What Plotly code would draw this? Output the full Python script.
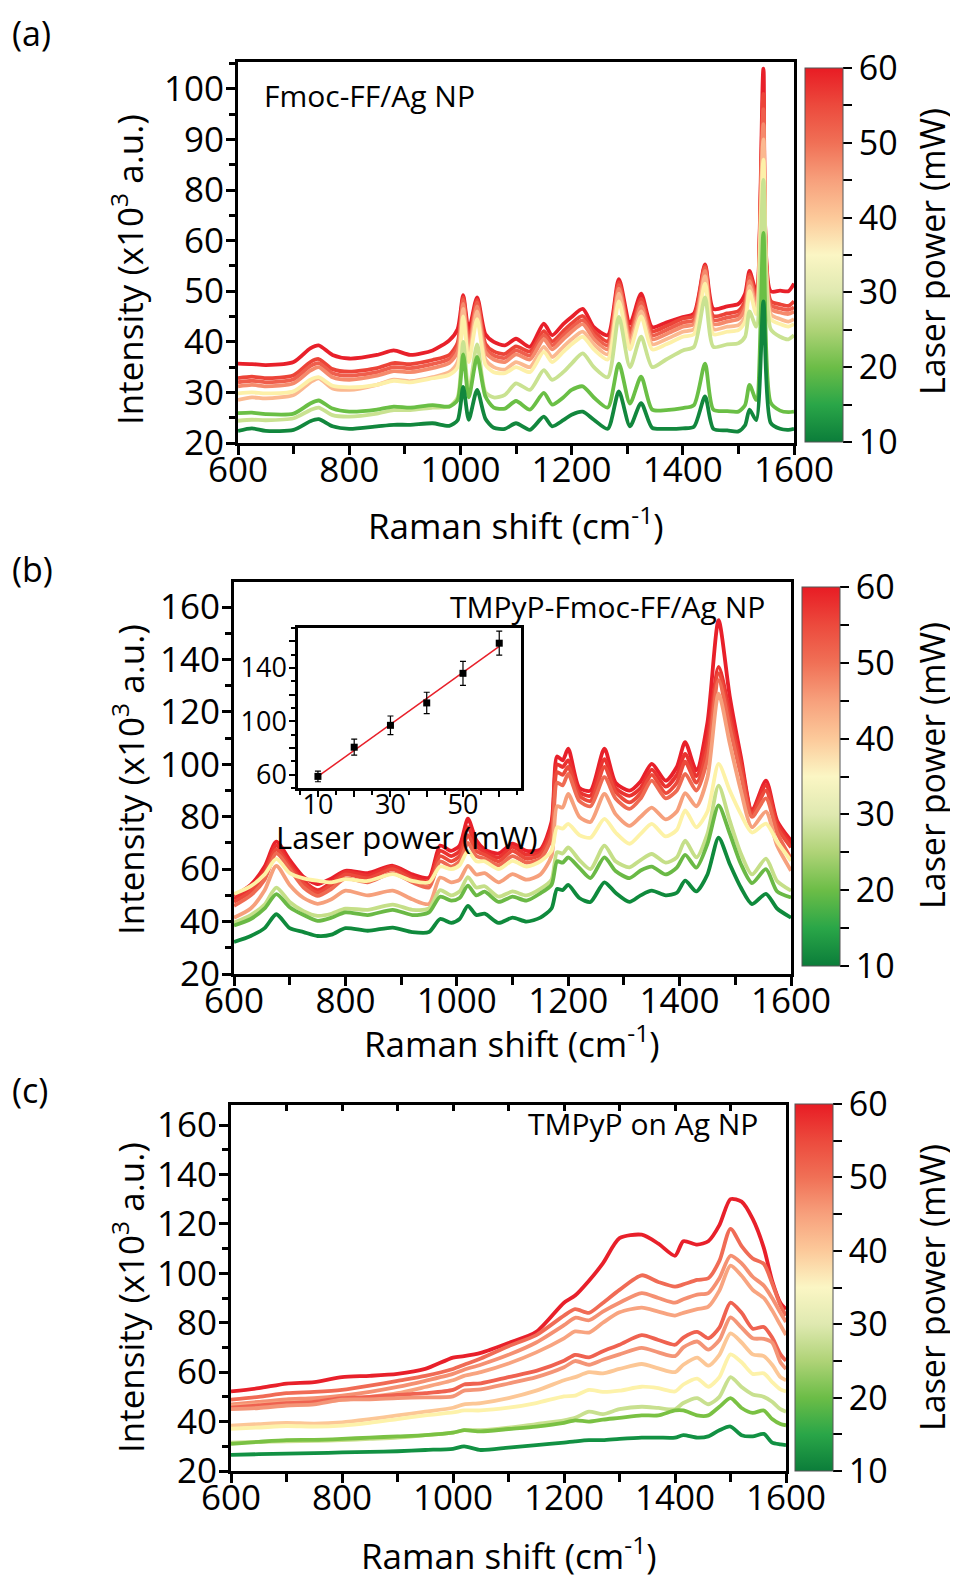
import numpy as np
import plotly.graph_objects as go

PAGE_W, PAGE_H = 958, 1578
OFF = 8  # default body margin of the html page
W, H = PAGE_W - OFF, PAGE_H - OFF
FONT = "Open Sans"

# ---------------- values ----------------
power_ticks = [10, 15, 20, 25, 30, 35, 40, 45, 50, 55, 60]
power_ticktext = ["10", "", "20", "", "30", "", "40", "", "50", "", "60"]

# panel (a) y axis: tick positions and the labels printed on them
a_ytick_vals = [20, 30, 40, 50, 60, 70, 80, 90]
a_ytick_text = ["20", "30", "40", "50", "60", "80", "90", "100"]

xa = [600, 625, 650, 700, 730, 745, 770, 800, 850, 880,
      910, 950, 980, 995, 1005, 1015, 1030, 1045, 1060, 1080,
      1100, 1125, 1150, 1165, 1185, 1200, 1220, 1240, 1265, 1285,
      1305, 1325, 1345, 1370, 1400, 1420, 1440, 1455, 1480, 1500,
      1512, 1520, 1532, 1545, 1558, 1575, 1590, 1600]
a_dg = [22.4, 22.9, 22.4, 22.6, 24.3, 24.7, 23.3, 22.8, 23.3, 23.6,
        23.6, 23.9, 23.4, 24.5, 31.1, 24.6, 30.5, 24.8, 23.0, 22.8,
        23.9, 22.6, 25.2, 23.3, 24.5, 25.6, 26.2, 24.6, 22.8, 30.2,
        23.3, 27.9, 23.0, 22.8, 22.9, 23.2, 29.2, 22.8, 22.5, 22.3,
        23.5, 26.6, 24.5, 48.0, 24.0, 22.8, 22.6, 22.8]
a_g = [25.9, 26.0, 25.7, 25.8, 27.8, 28.4, 26.8, 26.2, 26.6, 27.2,
       27.0, 27.5, 27.2, 28.5, 37.5, 29.0, 37.0, 29.2, 27.0, 26.8,
       28.3, 26.6, 29.9, 27.6, 29.0, 30.5, 31.2, 29.0, 27.0, 35.7,
       27.8, 33.1, 26.6, 26.5, 26.9, 27.5, 35.7, 26.6, 26.3, 26.2,
       27.5, 31.5, 28.5, 61.5, 28.0, 26.4, 26.1, 26.2]
a_lg = [24.4, 24.6, 24.5, 24.9, 26.5, 27.0, 25.5, 25.2, 25.8, 26.5,
        26.5, 27.0, 27.2, 29.0, 40.0, 30.0, 39.5, 30.0, 29.0, 29.5,
        31.8, 30.5, 34.4, 32.5, 34.0, 35.7, 37.7, 35.0, 33.0, 44.9,
        35.0, 41.0, 35.0, 36.5, 38.3, 39.0, 48.8, 39.0, 39.5, 39.7,
        41.0, 46.0, 43.0, 72.0, 42.5, 41.0, 40.5, 41.3]
a_y = [29.8, 30.0, 29.8, 30.2, 32.5, 33.0, 31.3, 31.0, 31.5, 32.3,
       32.0, 32.8, 33.5, 35.0, 45.0, 36.0, 44.5, 35.5, 34.0, 33.8,
       35.0, 34.0, 38.0, 36.0, 38.0, 39.5, 41.0, 38.5, 36.5, 48.0,
       38.5, 45.0, 38.5, 39.5, 41.0, 41.5, 51.5, 41.5, 42.0, 42.3,
       44.0, 50.0, 45.5, 76.0, 44.5, 43.5, 43.0, 43.5]
a_p = [28.5, 29.0, 28.8, 29.5, 32.0, 32.8, 30.8, 30.5, 31.5, 32.5,
       32.2, 33.0, 34.0, 36.0, 46.5, 37.0, 46.0, 36.5, 35.0, 34.5,
       36.0, 35.0, 39.0, 37.0, 39.0, 40.5, 42.0, 39.5, 37.5, 49.5,
       39.5, 46.0, 39.5, 40.5, 42.0, 42.5, 53.0, 42.5, 43.0, 43.3,
       45.0, 51.0, 46.5, 80.0, 45.5, 44.5, 44.0, 44.5]
a_s = [31.2, 31.5, 31.2, 31.8, 34.3, 35.0, 33.0, 32.5, 33.3, 34.2,
       34.0, 34.8, 35.8, 38.0, 47.5, 38.5, 47.0, 38.0, 36.5, 36.0,
       37.5, 36.5, 40.5, 38.5, 40.5, 42.0, 43.5, 40.5, 38.5, 50.5,
       40.5, 47.0, 40.5, 41.5, 43.0, 43.5, 54.0, 43.5, 44.0, 44.5,
       46.5, 52.0, 47.5, 83.0, 46.5, 45.8, 45.5, 46.0]
a_r3 = [32.0, 32.3, 32.0, 32.6, 35.2, 35.8, 33.8, 33.3, 34.0, 35.0,
        34.8, 35.6, 36.6, 39.0, 48.3, 39.5, 47.8, 38.8, 37.3, 36.8,
        38.3, 37.3, 41.3, 39.3, 41.3, 42.8, 44.3, 41.3, 39.3, 51.2,
        41.3, 47.8, 41.3, 42.3, 43.8, 44.3, 54.6, 44.3, 44.8, 45.3,
        47.3, 52.8, 48.3, 86.0, 47.3, 46.6, 46.3, 46.8]
a_r2 = [32.8, 33.1, 32.8, 33.4, 36.0, 36.6, 34.6, 34.1, 34.8, 35.8,
        35.6, 36.4, 37.4, 39.8, 48.8, 40.3, 48.3, 39.6, 38.1, 37.6,
        39.1, 38.1, 42.1, 40.1, 42.1, 43.6, 45.1, 42.1, 40.1, 51.8,
        42.1, 48.5, 42.1, 43.1, 44.6, 45.1, 55.0, 45.1, 45.6, 46.1,
        48.1, 53.3, 49.1, 89.0, 48.1, 47.4, 47.1, 48.0]
a_r1 = [35.7, 35.6, 35.4, 36.0, 38.7, 39.3, 37.4, 36.7, 37.4, 38.3,
        37.4, 38.3, 40.3, 42.5, 49.2, 42.3, 48.8, 41.5, 40.0, 39.3,
        40.6, 39.0, 43.6, 41.3, 43.5, 44.9, 46.5, 42.9, 41.3, 52.4,
        43.6, 49.5, 42.9, 43.8, 44.9, 45.6, 55.3, 46.5, 47.0, 47.5,
        49.5, 54.0, 50.0, 94.0, 50.0, 50.1, 50.0, 51.5]

xb = [600, 630, 655, 676, 700, 725, 750, 775, 800, 840,
      885, 920, 950, 970, 990, 1005, 1020, 1035, 1050, 1075,
      1100, 1125, 1150, 1170, 1180, 1190, 1200, 1220, 1240, 1265,
      1285, 1310, 1330, 1350, 1375, 1395, 1410, 1430, 1450, 1470,
      1490, 1510, 1530, 1555, 1575, 1600]
b_dg = [32.2, 34.5, 37.5, 42.8, 37.5, 36.0, 34.5, 35.0, 37.5, 36.5,
        37.7, 36.0, 36.0, 41.0, 39.5, 41.0, 46.0, 42.5, 43.0, 39.5,
        41.5, 40.0, 41.5, 45.0, 52.5, 52.0, 54.0, 49.0, 47.5, 55.0,
        51.0, 47.5, 50.0, 51.8, 50.0, 51.0, 55.6, 51.5, 58.0, 72.0,
        62.0, 53.0, 46.7, 50.6, 45.0, 41.5]
b_g = [38.5, 41.0, 45.0, 50.5, 45.5, 42.5, 40.3, 41.5, 43.5, 42.5,
       44.5, 42.5, 43.5, 49.5, 48.0, 49.0, 53.7, 50.0, 51.4, 47.5,
       49.5, 48.0, 50.8, 54.0, 63.0, 62.5, 64.5, 60.5, 56.6, 64.5,
       59.3, 56.6, 59.5, 61.0, 58.0, 60.6, 65.5, 60.6, 69.7, 84.3,
       73.6, 62.0, 54.7, 60.0, 51.5, 49.2]
b_lg = [39.6, 42.5, 46.5, 53.0, 47.5, 44.0, 42.2, 43.0, 44.9, 44.5,
        46.5, 44.5, 45.0, 52.0, 50.0, 51.5, 57.0, 53.0, 53.5, 49.5,
        51.5, 50.0, 52.5, 56.0, 66.5, 66.0, 68.3, 63.5, 60.0, 69.0,
        63.0, 60.7, 63.5, 65.8, 62.5, 64.5, 70.9, 64.5, 73.5, 91.9,
        78.5, 66.0, 58.0, 64.0, 55.5, 51.8]
b_y = [50.5, 53.5, 58.0, 63.9, 58.5, 56.5, 55.6, 55.0, 56.2, 55.5,
       58.1, 55.5, 55.0, 61.0, 60.0, 61.5, 67.0, 63.0, 63.0, 60.0,
       63.2, 61.0, 63.0, 67.0, 76.0, 75.5, 77.3, 73.0, 72.0, 79.2,
       74.0, 69.7, 73.5, 77.3, 72.5, 75.0, 82.4, 76.0, 82.0, 100.2,
       90.0, 81.0, 74.0, 77.4, 70.5, 63.2]
b_p = [41.5, 45.0, 52.0, 61.3, 54.0, 49.0, 46.8, 48.5, 51.8, 50.0,
       51.8, 48.5, 46.7, 56.8, 55.0, 56.0, 61.3, 58.0, 58.5, 55.0,
       58.1, 56.0, 58.0, 65.0, 84.0, 83.5, 88.7, 80.0, 78.0, 88.7,
       81.0, 76.5, 80.0, 83.5, 79.0, 82.0, 89.0, 84.0, 95.0, 127.0,
       108.0, 90.0, 76.0, 82.0, 69.0, 59.4]
b_s = [46.0, 50.0, 56.0, 66.0, 60.0, 53.0, 49.8, 52.5, 56.5, 55.0,
       58.5, 55.0, 53.0, 63.0, 61.0, 63.0, 70.0, 65.0, 64.0, 61.5,
       65.0, 62.5, 64.0, 72.0, 93.0, 92.0, 96.4, 86.0, 84.0, 95.1,
       87.0, 83.0, 87.0, 93.8, 87.0, 90.0, 96.4, 90.0, 102.0, 132.1,
       114.0, 96.0, 80.0, 87.0, 74.0, 64.0]
b_r3 = [47.5, 51.5, 58.0, 67.5, 61.0, 54.5, 51.0, 54.0, 58.0, 56.5,
        60.0, 56.0, 54.5, 65.0, 63.0, 65.0, 73.0, 67.0, 65.5, 63.0,
        67.0, 64.0, 65.5, 74.0, 97.0, 96.0, 99.0, 88.0, 86.0, 99.0,
        89.5, 85.5, 89.0, 96.0, 89.0, 93.0, 101.0, 93.0, 106.0, 134.7,
        117.0, 99.0, 81.0, 90.0, 76.0, 68.3]
b_r2 = [48.6, 52.5, 59.5, 69.0, 62.0, 55.5, 52.0, 55.0, 59.0, 57.5,
        61.0, 57.0, 55.5, 67.0, 65.0, 67.0, 76.0, 69.0, 66.5, 64.5,
        68.5, 65.5, 66.5, 76.0, 100.0, 99.0, 101.5, 89.5, 88.0, 102.0,
        91.0, 88.0, 91.0, 98.0, 91.5, 96.0, 104.0, 95.5, 110.0, 137.2,
        120.0, 101.0, 82.0, 92.0, 77.5, 69.5]
b_r1 = [49.8, 54.0, 61.0, 70.5, 63.5, 57.0, 54.3, 56.5, 59.4, 58.5,
        61.3, 58.0, 56.8, 69.0, 67.0, 69.0, 79.3, 71.0, 67.5, 66.0,
        69.7, 67.0, 67.5, 78.0, 103.0, 101.5, 106.0, 91.0, 90.0, 106.0,
        93.0, 90.0, 93.5, 100.2, 93.8, 99.0, 108.5, 97.7, 116.0, 155.0,
        126.0, 103.0, 82.4, 93.8, 78.5, 70.9]

# inset of panel (b)
ins_power = [10, 20, 30, 40, 50, 60]
ins_int = [58.7, 80.6, 97.0, 113.8, 136.0, 158.6]
ins_err = [4.0, 6.0, 7.0, 8.0, 9.0, 9.0]

xc = [600, 650, 700, 750, 800, 850, 900, 950, 1000, 1020,
      1050, 1100, 1150, 1200, 1220, 1245, 1270, 1300, 1340, 1370,
      1400, 1415, 1440, 1460, 1480, 1500, 1520, 1540, 1560, 1575,
      1590, 1600]
c_60 = [52.2, 53.5, 55.4, 56.0, 58.0, 58.5, 59.3, 61.3, 65.9, 66.5,
        67.8, 71.8, 76.3, 88.1, 91.0, 97.0, 104.0, 114.2, 115.6, 112.0,
        107.1, 113.0, 111.6, 113.0, 119.5, 130.0, 129.0, 122.0, 110.3, 97.0,
        88.0, 85.5]
c_55 = [48.9, 50.0, 51.5, 52.0, 52.8, 54.5, 56.5, 58.5, 61.3, 63.0,
        65.5, 70.5, 75.0, 82.9, 85.5, 84.0, 88.0, 93.3, 99.2, 96.5,
        94.6, 95.5, 97.3, 98.0, 105.0, 118.0, 111.0, 106.0, 103.8, 96.0,
        87.0, 82.9]
c_50 = [46.9, 48.0, 49.0, 49.5, 50.5, 52.0, 54.0, 56.5, 59.3, 61.0,
        63.0, 67.0, 72.0, 79.0, 82.0, 81.0, 84.5, 88.1, 92.0, 90.0,
        88.1, 89.5, 91.4, 92.0, 98.0, 107.1, 104.0, 98.6, 95.0, 90.0,
        84.0, 80.3]
c_45 = [46.3, 47.0, 47.8, 48.0, 48.8, 50.0, 51.5, 54.0, 56.7, 58.5,
        60.0, 63.5, 68.0, 73.7, 76.5, 76.0, 80.0, 84.2, 86.1, 84.5,
        82.9, 84.0, 85.5, 86.5, 93.0, 103.1, 99.0, 93.3, 90.0, 85.0,
        79.0, 75.0]
c_40 = [45.6, 46.5, 47.5, 48.0, 49.5, 50.0, 50.8, 51.5, 52.8, 55.0,
        55.5, 58.0, 60.5, 64.6, 67.0, 66.0, 68.5, 71.1, 75.0, 73.0,
        71.1, 74.0, 76.3, 73.7, 78.0, 88.1, 84.0, 77.6, 78.3, 74.0,
        67.2, 64.6]
c_35 = [45.0, 45.5, 46.5, 47.0, 48.9, 49.0, 49.5, 49.8, 50.2, 52.5,
        53.0, 55.4, 58.0, 62.0, 64.5, 63.0, 65.0, 67.2, 69.8, 68.0,
        66.5, 70.0, 72.4, 69.1, 73.0, 82.2, 78.0, 73.7, 73.5, 72.0,
        64.0, 61.3]
c_30 = [38.4, 39.0, 39.5, 39.2, 39.7, 41.0, 42.5, 44.0, 45.6, 47.0,
        47.5, 49.5, 52.5, 56.7, 58.0, 60.0, 59.5, 61.3, 63.3, 61.5,
        60.0, 63.0, 65.9, 62.6, 67.0, 75.7, 72.0, 67.2, 66.5, 63.0,
        58.0, 56.7]
c_25 = [37.1, 37.6, 38.2, 38.0, 38.4, 39.5, 41.0, 42.5, 43.7, 44.5,
        44.5, 45.6, 47.5, 50.2, 50.5, 52.8, 52.0, 52.5, 54.1, 53.5,
        52.2, 55.0, 57.4, 54.1, 58.0, 67.2, 64.0, 59.3, 59.5, 56.0,
        53.0, 52.2]
c_20 = [31.5, 31.8, 32.0, 32.2, 32.5, 33.0, 33.5, 34.5, 35.5, 36.5,
        36.5, 37.5, 39.0, 40.5, 41.5, 44.0, 43.0, 45.0, 46.0, 45.5,
        45.0, 47.5, 49.5, 47.0, 50.0, 58.0, 54.0, 51.0, 50.0, 48.0,
        45.0, 44.0]
c_15 = [31.0, 31.8, 32.5, 32.6, 33.0, 33.5, 34.0, 34.5, 35.5, 36.5,
        36.0, 37.0, 38.0, 39.5, 40.5, 40.0, 40.8, 41.5, 42.5, 42.5,
        44.5, 44.5, 42.5, 42.5, 46.0, 49.5, 45.5, 43.5, 44.5, 41.0,
        39.0, 38.5]
c_10 = [26.5, 26.8, 27.0, 27.2, 27.5, 27.7, 28.0, 28.5, 29.0, 30.0,
        28.5, 29.5, 30.5, 31.5, 32.0, 32.5, 32.5, 33.0, 33.5, 33.5,
        33.5, 34.5, 33.5, 34.0, 36.5, 38.0, 34.5, 34.0, 35.0, 31.5,
        30.8, 30.5]

# ---------------- styles ----------------
colorscale = [[0.0, "#0b7d3a"], [0.1, "#2aa648"], [0.2, "#6cbd47"],
              [0.3, "#afd377"], [0.4, "#dfe9b0"], [0.5, "#fbf6c4"],
              [0.6, "#fcc99a"], [0.7, "#f7a07c"], [0.8, "#f07056"],
              [0.9, "#ec4a3d"], [1.0, "#e81c24"]]

a_curves = [a_r1, a_r2, a_r3, a_s, a_p, a_y, a_lg, a_g, a_dg]
a_colors = ["#e8202a", "#ec4438", "#ef5e4c", "#f58a6c", "#fbb990",
            "#fdf0a8", "#c9e291", "#6abf45", "#12873d"]
b_curves = [b_r1, b_r2, b_r3, b_s, b_p, b_y, b_lg, b_g, b_dg]
b_colors = ["#e8202a", "#ea3330", "#ec4a3b", "#ef6a52", "#f6a07c",
            "#fdf2a6", "#c5df88", "#6ab945", "#0f8a3c"]
c_curves = [c_60, c_55, c_50, c_45, c_40, c_35, c_30, c_25, c_20, c_15, c_10]
c_colors = ["#e8202a", "#f06b55", "#f59072", "#f8a480", "#ef6250",
            "#f49577", "#fcc796", "#fdf2aa", "#c8e08f", "#7ac143", "#129143"]


def fx(p):
    return (p - OFF) / W


def fy(p):
    return 1 - (p - OFF) / H


panels = [
    dict(xs=xa, curves=a_curves, colors=a_colors, ax="x", ay="y",
         box=(238, 794, 62, 443), cb=(805, 68, 442), yr=[20, 95.3],
         label="(a)", label_y=33, name="Fmoc-FF/Ag NP", name_x=262, name_y=96,
         name_anchor="left", ytitle_y=270, xtitle_y=523, cbtitle_y=252),
    dict(xs=xb, curves=b_curves, colors=b_colors, ax="x2", ay="y2",
         box=(234, 791, 582, 974), cb=(802, 587, 966), yr=[20, 169.6],
         label="(b)", label_y=569, name="TMPyP-Fmoc-FF/Ag NP", name_x=767, name_y=606,
         name_anchor="right", ytitle_y=780, xtitle_y=1041, cbtitle_y=766),
    dict(xs=xc, curves=c_curves, colors=c_colors, ax="x3", ay="y3",
         box=(231, 786, 1105, 1471), cb=(795, 1104, 1471), yr=[20, 168.1],
         label="(c)", label_y=1090, name="TMPyP on Ag NP", name_x=760, name_y=1123,
         name_anchor="right", ytitle_y=1298, xtitle_y=1553, cbtitle_y=1288),
]

fig = go.Figure()
annotations = []
TICKF = dict(family=FONT, size=35, color="black")
CBF = dict(family=FONT, size=34, color="black")
TITLEF = dict(family=FONT, size=35, color="black")
CBTF = dict(family=FONT, size=34, color="black")

for i, p in enumerate(panels):
    for ys, col in zip(p["curves"], p["colors"]):
        fig.add_trace(go.Scatter(
            x=p["xs"], y=ys, mode="lines",
            line=dict(color=col, width=3.8, shape="spline", smoothing=0.7),
            xaxis=p["ax"], yaxis=p["ay"], showlegend=False, hoverinfo="skip"))
    cbx, cbt, cbb = p["cb"]
    fig.add_trace(go.Scatter(
        x=[p["xs"][0], p["xs"][0]], y=[p["curves"][-1][0], p["curves"][-1][0]],
        mode="markers", xaxis=p["ax"], yaxis=p["ay"], showlegend=False,
        hoverinfo="skip",
        marker=dict(size=1, opacity=0, color=[power_ticks[0], power_ticks[-1]],
                    cmin=power_ticks[0], cmax=power_ticks[-1],
                    colorscale=colorscale, showscale=True,
                    colorbar=dict(
                        x=fx(cbx), xanchor="left", xpad=0,
                        y=fy(cbt), yanchor="top", ypad=0,
                        len=cbb - cbt, lenmode="pixels",
                        thickness=38, thicknessmode="pixels",
                        outlinewidth=1, outlinecolor="#555",
                        tickmode="array", tickvals=power_ticks,
                        ticktext=power_ticktext,
                        ticks="outside", ticklen=9, tickwidth=2, tickcolor="black",
                        tickfont=CBF))))

    l, r, t, b = p["box"]
    suffix = "" if i == 0 else str(i + 1)
    xaxis = dict(domain=[fx(l), fx(r)], range=[600, 1600], anchor=p["ay"],
                 tick0=600, dtick=200, ticks="outside", ticklen=9, tickwidth=2.5,
                 tickcolor="black", showline=True, linewidth=3, linecolor="black",
                 mirror=True, showgrid=False, zeroline=False, tickfont=TICKF,
                 ticklabelstandoff=-15,
                 minor=dict(dtick=100, tick0=600, ticks="outside", ticklen=8,
                            tickwidth=2.5, tickcolor="black", showgrid=False))
    yaxis = dict(domain=[fy(b), fy(t)], range=p["yr"], anchor=p["ax"],
                 ticks="outside", ticklen=9, tickwidth=2.5, tickcolor="black",
                 showline=True, linewidth=3, linecolor="black", mirror=True,
                 showgrid=False, zeroline=False, tickfont=TICKF,
                 ticklabelstandoff=-5)
    if i == 0:
        yaxis.update(tickmode="array", tickvals=a_ytick_vals, ticktext=a_ytick_text,
                     minor=dict(dtick=5, tick0=20, ticks="outside", ticklen=6,
                                tickwidth=2.5, tickcolor="black", showgrid=False))
    else:
        yaxis.update(tick0=20, dtick=20,
                     minor=dict(dtick=10, tick0=20, ticks="outside", ticklen=6,
                                tickwidth=2.5, tickcolor="black", showgrid=False))
    fig.update_layout(**{"xaxis" + suffix: xaxis, "yaxis" + suffix: yaxis})

    annotations += [
        dict(text=p["label"], x=fx(10), y=fy(p["label_y"]), xref="paper", yref="paper",
             xanchor="left", yanchor="middle", showarrow=False,
             font=dict(family=FONT, size=34, color="black")),
        dict(text=p["name"], x=fx(p["name_x"]), y=fy(p["name_y"]), xref="paper",
             yref="paper", xanchor=p["name_anchor"], yanchor="middle", showarrow=False,
             font=dict(family=FONT, size=30, color="black")),
        dict(text="Intensity (x10<sup>3</sup> a.u.)", x=fx(128), y=fy(p["ytitle_y"]),
             xref="paper", yref="paper", xanchor="center", yanchor="middle",
             textangle=-90, showarrow=False, font=TITLEF),
        dict(text="Raman shift (cm<sup>-1</sup>)", x=fx((l + r) / 2), y=fy(p["xtitle_y"]),
             xref="paper", yref="paper", xanchor="center", yanchor="middle",
             showarrow=False, font=TITLEF),
        dict(text="Laser power (mW)", x=fx(932), y=fy(p["cbtitle_y"]),
             xref="paper", yref="paper", xanchor="center", yanchor="middle",
             textangle=-90, showarrow=False, font=CBTF),
    ]

# inner top ticks of panel (c)
fig.add_trace(go.Scatter(x=[xc[0]], y=[c_10[0]], mode="markers",
                         marker=dict(size=1, opacity=0), xaxis="x5", yaxis="y3",
                         showlegend=False, hoverinfo="skip"))
fig.update_layout(xaxis5=dict(overlaying="x3", anchor="y3", side="top",
                              range=[600, 1600], tick0=600, dtick=100,
                              ticks="inside", ticklen=6, tickwidth=2.5,
                              tickcolor="black", showticklabels=False,
                              showline=False, showgrid=False, zeroline=False))

# ---------------- inset in panel (b) ----------------
slope, icpt = np.polyfit(ins_power, ins_int, 1)
fit_x = [ins_power[0], ins_power[-1]]
fit_y = [slope * v + icpt for v in fit_x]
fig.add_trace(go.Scatter(x=fit_x, y=fit_y, mode="lines",
                         line=dict(color="#e8202a", width=1.5),
                         xaxis="x4", yaxis="y4", showlegend=False, hoverinfo="skip"))
fig.add_trace(go.Scatter(x=ins_power, y=ins_int, mode="markers",
                         marker=dict(symbol="square", size=7, color="black"),
                         error_y=dict(type="data", array=ins_err, visible=True,
                                      color="black", thickness=1.2, width=3),
                         xaxis="x4", yaxis="y4", showlegend=False, hoverinfo="skip"))
INSF = dict(family=FONT, size=27, color="black")
fig.update_layout(
    xaxis4=dict(domain=[fx(298), fx(521)], range=[4.5, 66], anchor="y4",
                tickmode="array", tickvals=[10, 20, 30, 40, 50, 60],
                ticktext=["10", "", "30", "", "50", ""],
                ticks="outside", ticklen=6, tickwidth=2, tickcolor="black",
                showline=True, linewidth=2.5, linecolor="black", mirror=True,
                showgrid=False, zeroline=False, tickfont=INSF,
                ticklabelstandoff=-15,
                minor=dict(dtick=5, tick0=10, ticks="outside", ticklen=4, tickwidth=1.5,
                           tickcolor="black", showgrid=False)),
    yaxis4=dict(domain=[fy(788), fy(628)], range=[50, 170], anchor="x4",
                tickmode="array", tickvals=[60, 80, 100, 120, 140, 160],
                ticktext=["60", "", "100", "", "140", ""],
                ticks="outside", ticklen=6, tickwidth=2, tickcolor="black",
                showline=True, linewidth=2.5, linecolor="black", mirror=True,
                showgrid=False, zeroline=False, tickfont=INSF,
                ticklabelstandoff=-3,
                minor=dict(dtick=10, tick0=60, ticks="outside", ticklen=4, tickwidth=1.5,
                           tickcolor="black", showgrid=False)),
)
annotations.append(dict(text="Laser power (mW)", x=fx(407), y=fy(837), xref="paper",
                        yref="paper", xanchor="center", yanchor="middle",
                        showarrow=False, font=dict(family=FONT, size=31, color="black")))

fig.update_layout(width=W, height=H, autosize=False,
                  margin=dict(l=0, r=0, t=0, b=0, autoexpand=False),
                  paper_bgcolor="white", plot_bgcolor="white",
                  font=dict(family=FONT, color="black"),
                  annotations=annotations)

fig.write_html("out.html")
